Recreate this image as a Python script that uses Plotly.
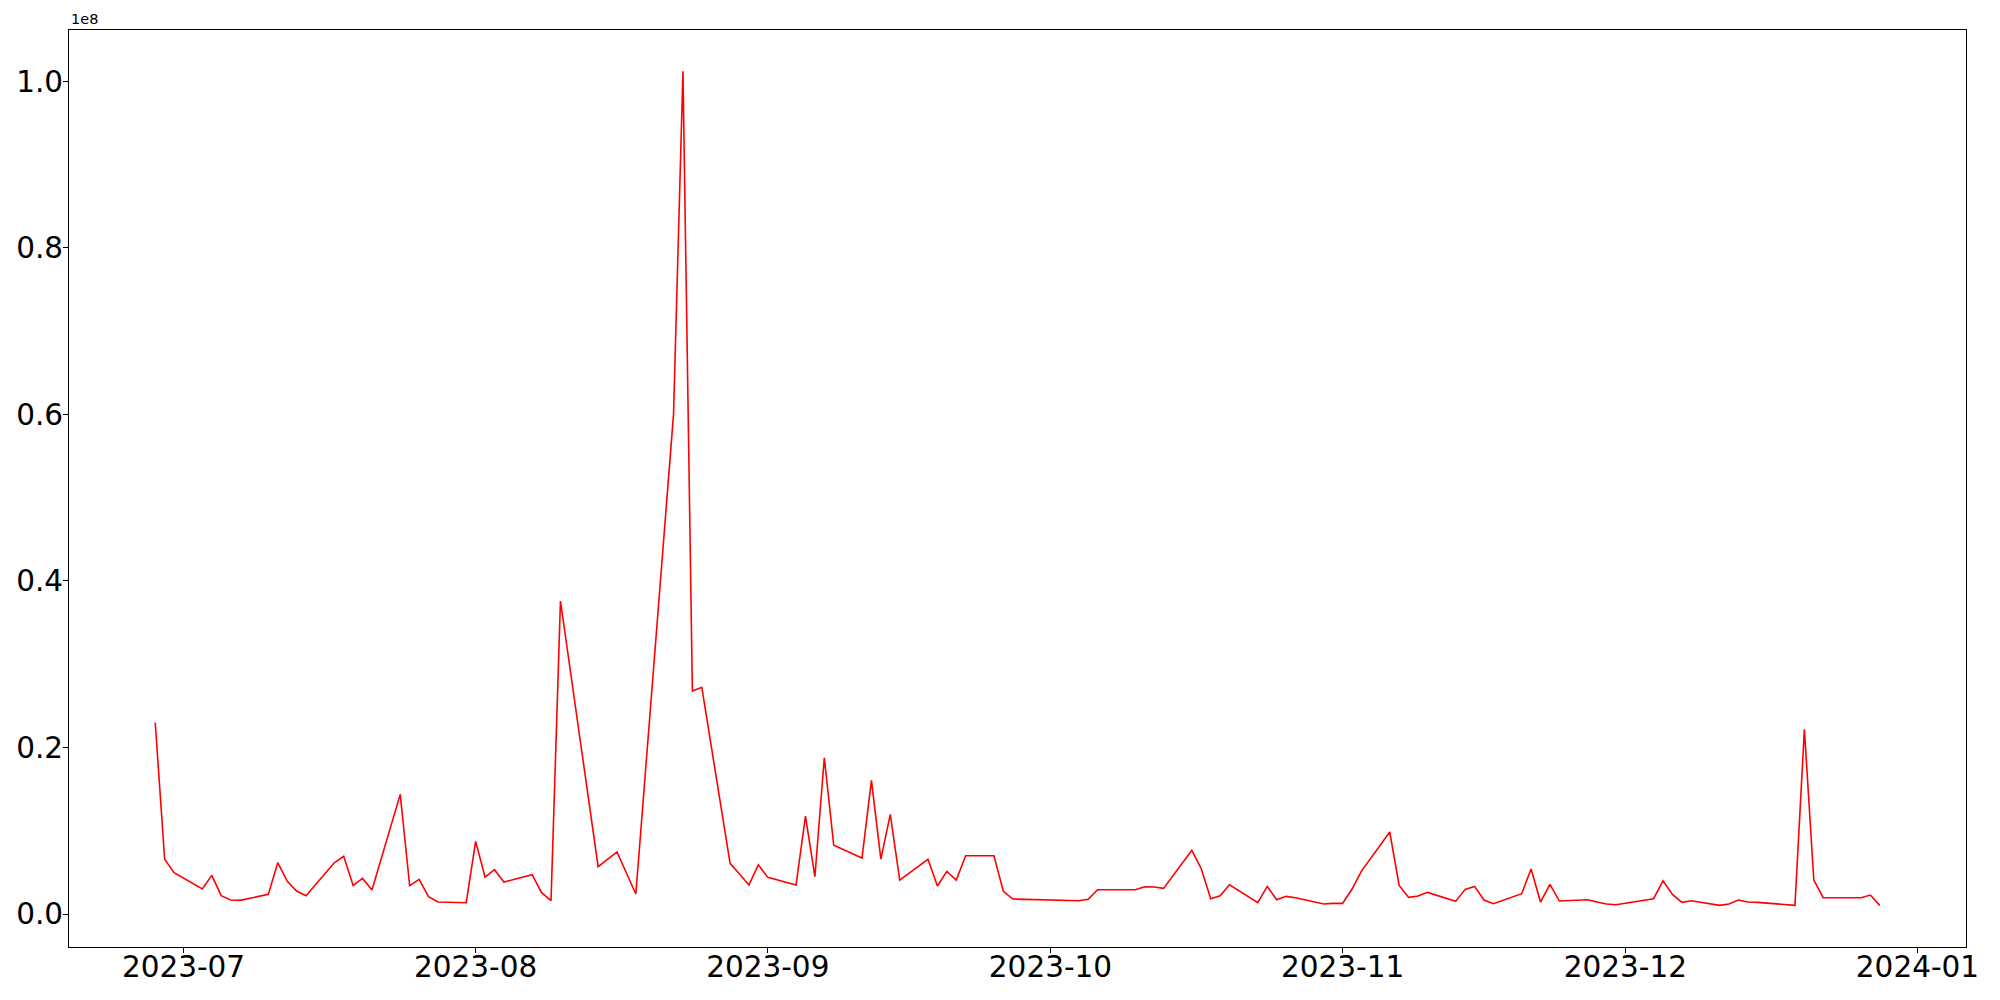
import plotly.graph_objects as go

dates = [
    "2023-06-28", "2023-06-29", "2023-06-30",
    "2023-07-03", "2023-07-04", "2023-07-05", "2023-07-06", "2023-07-07",
    "2023-07-10", "2023-07-11", "2023-07-12", "2023-07-13", "2023-07-14",
    "2023-07-17", "2023-07-18", "2023-07-19", "2023-07-20", "2023-07-21",
    "2023-07-24", "2023-07-25", "2023-07-26", "2023-07-27", "2023-07-28",
    "2023-07-31", "2023-08-01", "2023-08-02", "2023-08-03", "2023-08-04",
    "2023-08-07", "2023-08-08", "2023-08-09", "2023-08-10",
    "2023-08-14", "2023-08-16", "2023-08-18",
    "2023-08-22", "2023-08-23", "2023-08-24", "2023-08-25",
    "2023-08-28", "2023-08-29", "2023-08-30", "2023-08-31", "2023-09-01",
    "2023-09-04", "2023-09-05", "2023-09-06", "2023-09-07", "2023-09-08",
    "2023-09-11", "2023-09-12", "2023-09-13", "2023-09-14", "2023-09-15",
    "2023-09-18", "2023-09-19", "2023-09-20", "2023-09-21", "2023-09-22",
    "2023-09-25", "2023-09-26", "2023-09-27",
    "2023-10-04", "2023-10-05", "2023-10-06",
    "2023-10-09", "2023-10-10", "2023-10-11", "2023-10-12", "2023-10-13",
    "2023-10-16", "2023-10-17", "2023-10-18", "2023-10-19", "2023-10-20",
    "2023-10-23", "2023-10-24", "2023-10-25", "2023-10-26", "2023-10-27",
    "2023-10-30", "2023-10-31", "2023-11-01", "2023-11-02", "2023-11-03",
    "2023-11-06", "2023-11-07", "2023-11-08", "2023-11-09", "2023-11-10",
    "2023-11-13", "2023-11-14", "2023-11-15", "2023-11-16", "2023-11-17",
    "2023-11-20", "2023-11-21", "2023-11-22", "2023-11-23", "2023-11-24",
    "2023-11-27", "2023-11-28", "2023-11-29", "2023-11-30", "2023-12-01",
    "2023-12-04", "2023-12-05", "2023-12-06", "2023-12-07", "2023-12-08",
    "2023-12-11", "2023-12-12", "2023-12-13", "2023-12-14", "2023-12-15",
    "2023-12-18", "2023-12-19", "2023-12-20", "2023-12-21", "2023-12-22",
    "2023-12-25", "2023-12-26", "2023-12-27", "2023-12-28",
]

values_millions = [
    23.0, 6.57, 4.96,
    3.0, 4.64, 2.2, 1.68, 1.64,
    2.36, 6.16, 3.96, 2.76, 2.2,
    6.16, 6.93, 3.44, 4.28, 2.88,
    14.37, 3.4, 4.16, 2.08, 1.44,
    1.36, 8.73, 4.44, 5.32, 3.84,
    4.72, 2.56, 1.6, 37.59,
    5.68, 7.45, 2.4,
    60.0, 101.2, 26.78, 27.22,
    6.09, 4.8, 3.48, 5.92, 4.4,
    3.48, 11.77, 4.48, 18.77, 8.25,
    6.73, 16.05, 6.6, 11.97, 4.08,
    6.57, 3.36, 5.12, 4.08, 7.0,
    7.0, 2.72, 1.8,
    1.6, 1.76, 2.92,
    2.92, 2.92, 3.28, 3.24, 3.08,
    7.65, 5.44, 1.84, 2.2, 3.52,
    1.36, 3.32, 1.72, 2.12, 1.96,
    1.2, 1.28, 1.28, 3.0, 5.16,
    9.85, 3.44, 2.0, 2.16, 2.6,
    1.52, 2.96, 3.32, 1.68, 1.24,
    2.44, 5.4, 1.44, 3.56, 1.56,
    1.72, 1.45, 1.2, 1.12, 1.28,
    1.84, 4.0, 2.36, 1.4, 1.6,
    1.04, 1.2, 1.68, 1.44, 1.4,
    1.15, 1.04, 22.18, 4.08, 1.96,
    1.96, 1.96, 2.28, 1.04,
]

values = [v * 1e6 for v in values_millions]

y_tick_vals = [0, 2e7, 4e7, 6e7, 8e7, 1e8]
y_tick_text = ["0.0", "0.2", "0.4", "0.6", "0.8", "1.0"]

FONT = "DejaVu Sans, Liberation Sans, sans-serif"

fig = go.Figure()
fig.add_trace(go.Scatter(
    x=dates, y=values, mode="lines",
    line=dict(color="#ff0000", width=1.6),
    showlegend=False,
))

axis_common = dict(
    showgrid=False, zeroline=False, automargin=False,
    showline=True, linecolor="black", linewidth=1.1, mirror=True,
    ticks="outside", ticklen=5, tickwidth=1.1, tickcolor="black",
    tickfont=dict(family=FONT, size=29.5, color="black"),
)

fig.update_xaxes(
    type="date",
    range=["2023-06-18 20:24", "2024-01-06 03:36"],
    tick0="2023-07-01", dtick="M1", tickformat="%Y-%m",
    ticklabelstandoff=-11,
    **axis_common,
)
fig.update_yaxes(
    range=[-3.96e6, 106.16e6],
    tickmode="array", tickvals=y_tick_vals, ticktext=y_tick_text,
    ticklabelstandoff=-6,
    **axis_common,
)

fig.add_annotation(
    text="1e8", xref="paper", yref="paper", x=0, y=1,
    xanchor="left", yanchor="bottom", yshift=1, showarrow=False,
    font=dict(family=FONT, size=14.5, color="black"),
)

# The page body has an 8px default margin; size the figure so the plot
# area lands where the reference has it inside the 2000x1000 window.
fig.update_layout(
    width=1984, height=984, autosize=False,
    margin=dict(l=61, r=26, t=22, b=45, pad=0),
    paper_bgcolor="white", plot_bgcolor="white",
)

fig.write_html("out.html")
